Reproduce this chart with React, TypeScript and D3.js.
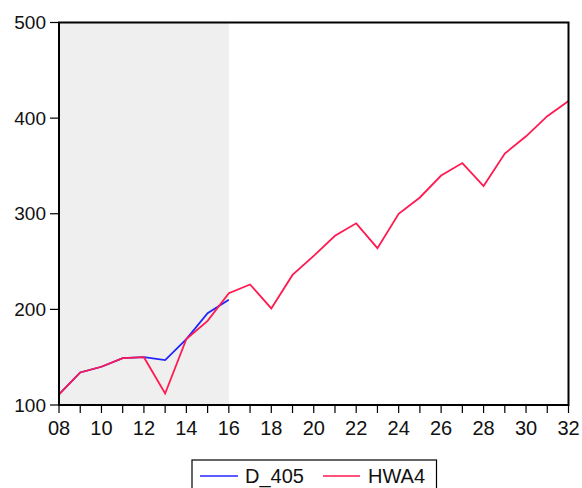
import React from "react";
import * as d3 from "d3";

const years = [8, 9, 10, 11, 12, 13, 14, 15, 16, 17, 18, 19, 20, 21, 22, 23, 24, 25, 26, 27, 28, 29, 30, 31, 32];
const hwa4 = [111, 134, 140, 149, 150, 112, 169, 188, 217, 226, 201, 236, 256, 277, 290, 264, 300, 317, 340, 353, 329, 363, 381, 402, 418];
const d405Years = [8, 9, 10, 11, 12, 13, 14, 15, 16];
const d405 = [111, 134, 140, 149, 150, 147, 169, 196, 210];
const yTicks = [100, 200, 300, 400, 500];
const xTickLabels = [8, 10, 12, 14, 16, 18, 20, 22, 24, 26, 28, 30, 32];
const shadeRange = [8, 16];
const seriesNames = ["D_405", "HWA4"];

export default function App() {
  const W = 582, H = 488;
  const L = 59, R = 568.5, T = 22.5, B = 405;
  const x = d3.scaleLinear().domain([8, 32]).range([L, R]);
  const y = d3.scaleLinear().domain([100, 500]).range([B, T]);
  const line = d3.line<[number, number]>().x(d => x(d[0])).y(d => y(d[1]));
  const red = "#ff1a50";
  const blue = "#2424ff";
  const font = "'Liberation Sans', Arial, sans-serif";
  return (
    <svg width={W} height={H} style={{ position: "absolute", left: 0, top: 0, background: "#fff" }}>
      <rect x={x(shadeRange[0])} y={T} width={x(shadeRange[1]) - x(shadeRange[0])} height={B - T} fill="#efefef" />
      <path d={line(d405Years.map((v, i) => [v, d405[i]]) as any) || ""} fill="none" stroke={blue} strokeWidth={1.8} />
      <path d={line(years.map((v, i) => [v, hwa4[i]]) as any) || ""} fill="none" stroke={red} strokeWidth={1.8} />
      <rect x={L} y={T} width={R - L} height={B - T} fill="none" stroke="#000" strokeWidth={2} />
      {yTicks.map(t => (
        <g key={t}>
          <line x1={L - 9} x2={L} y1={y(t)} y2={y(t)} stroke="#000" strokeWidth={1.2} />
          <text x={46} y={y(t) + 6.5} textAnchor="end" fontFamily={font} fontSize={19} fill="#111">{t}</text>
        </g>
      ))}
      {years.map(t => (
        <line key={t} x1={x(t)} x2={x(t)} y1={B} y2={B + 8} stroke="#000" strokeWidth={1.2} />
      ))}
      {xTickLabels.map(t => (
        <text key={t} x={x(t)} y={435} textAnchor="middle" fontFamily={font} fontSize={20} fill="#111">{d3.format("02d")(t)}</text>
      ))}
      <rect x={192} y={460} width={244.5} height={40} fill="#fff" stroke="#000" strokeWidth={1.2} />
      <line x1={200} x2={238} y1={476} y2={476} stroke={blue} strokeWidth={1.6} />
      <text x={245} y={483} fontFamily={font} fontSize={20} fill="#111">{seriesNames[0]}</text>
      <line x1={323} x2={360} y1={476} y2={476} stroke={red} strokeWidth={1.6} />
      <text x={368} y={483} fontFamily={font} fontSize={20} fill="#111">{seriesNames[1]}</text>
    </svg>
  );
}
